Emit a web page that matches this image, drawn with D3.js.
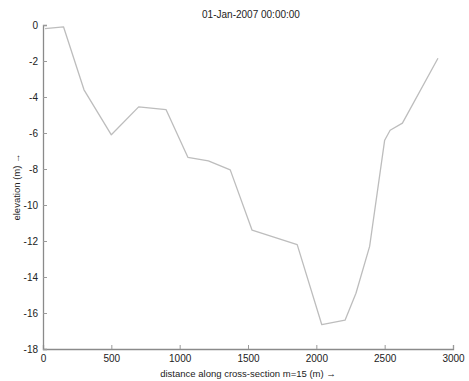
<!DOCTYPE html>
<html>
<head>
<meta charset="utf-8">
<script src="https://cdn.jsdelivr.net/npm/d3@7"></script>
<style>
  html, body { margin: 0; padding: 0; background: #fff; }
  svg { display: block; }
  text { font-family: "Liberation Sans", Arial, sans-serif; fill: #222; }
</style>
</head>
<body>
<svg id="chart" width="469" height="381"></svg>
<script>
// Cross-section profile: distance (m) and bed elevation (m)
const distance = [15, 150, 300, 500, 700, 900, 1060, 1210, 1370, 1530, 1860, 2040, 2210, 2290, 2390, 2500, 2540, 2630, 2890];
const elevation = [-0.2, -0.1, -3.6, -6.1, -4.55, -4.7, -7.35, -7.55, -8.05, -11.4, -12.2, -16.65, -16.4, -14.9, -12.3, -6.4, -5.85, -5.45, -1.85];
const xTicks = [0, 500, 1000, 1500, 2000, 2500, 3000];
const yTicks = [0, -2, -4, -6, -8, -10, -12, -14, -16, -18];
const titleText = "01-Jan-2007 00:00:00";
const xLabel = "distance along cross-section m=15 (m)  \u2192";
const yLabel = "elevation (m) \u2192";

const svg = d3.select("#chart");
const plotLeft = 43, plotRight = 453, plotTop = 25, plotBottom = 349;

const x = d3.scaleLinear().domain([0, 3000]).range([plotLeft, plotRight]);
const y = d3.scaleLinear().domain([-18, 0]).range([plotBottom, plotTop]);

// Axes with inward ticks
const xAxis = d3.axisBottom(x).tickValues(xTicks).tickSize(-4).tickPadding(6).tickFormat(d3.format("d"));
const yAxis = d3.axisLeft(y).tickValues(yTicks).tickSize(-4).tickPadding(5).tickFormat(d => String(d));

const gx = svg.append("g").attr("transform", `translate(0,${plotBottom})`).call(xAxis);
const gy = svg.append("g").attr("transform", `translate(${plotLeft},0)`).call(yAxis);

[gx, gy].forEach(g => {
  g.select(".domain").attr("stroke", "#8a8a8a").attr("stroke-width", 1.3);
  g.selectAll(".tick line").attr("stroke", "#9a9a9a");
  g.selectAll(".tick text").attr("font-size", 10).attr("fill", "#2a2a2a")
    .attr("font-family", "'Liberation Sans', Arial, sans-serif");
});

// Profile line
const line = d3.line().x((d, i) => x(distance[i])).y(d => y(d));
svg.append("path")
  .datum(elevation)
  .attr("d", line)
  .attr("fill", "none")
  .attr("stroke", "#bdbdbd")
  .attr("stroke-width", 1.3)
  .attr("stroke-linejoin", "round");

// Title and axis labels
svg.append("text")
  .attr("x", 251).attr("y", 18)
  .attr("text-anchor", "middle")
  .attr("font-size", 10)
  .text(titleText);

svg.append("text")
  .attr("x", 248).attr("y", 377)
  .attr("text-anchor", "middle")
  .attr("font-size", 9.5)
  .text(xLabel);

svg.append("text")
  .attr("transform", `translate(20,${(plotTop + plotBottom) / 2}) rotate(-90)`)
  .attr("text-anchor", "middle")
  .attr("font-size", 9.5)
  .text(yLabel);
</script>
</body>
</html>
